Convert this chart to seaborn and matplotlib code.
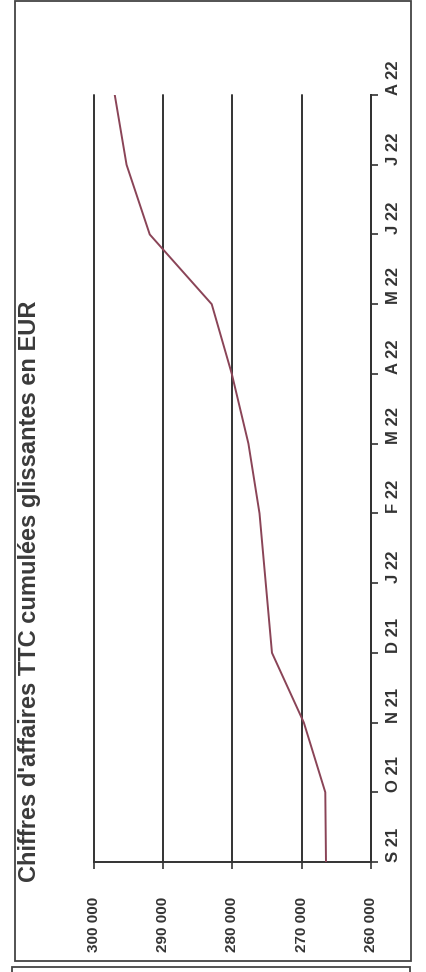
import matplotlib
matplotlib.use("Agg")
import matplotlib.pyplot as plt
from matplotlib.patches import Rectangle
import seaborn as sns
import pandas as pd

# Rolling cumulative turnover (TTC), one value per month
months = ["S 21", "O 21", "N 21", "D 21", "J 22", "F 22",
          "M 22", "A 22", "M 22", "J 22", "J 22", "A 22"]
values = [266500, 266600, 269700, 274300, 275200, 276100,
          277700, 280100, 283000, 291950, 295300, 297000]
value_ticks = [260000, 270000, 280000, 290000, 300000]
value_tick_labels = ["260 000", "270 000", "280 000", "290 000", "300 000"]
title = "Chiffres d'affaires TTC cumulées glissantes en EUR"

sns.set_theme(style="white")
plt.rcParams["font.family"] = ["Liberation Sans", "DejaVu Sans"]

df = pd.DataFrame({"idx": range(len(months)), "value": values})

fig = plt.figure(figsize=(4.27, 9.72), dpi=100)
ax = fig.add_axes([94 / 427, 110 / 972, 277 / 427, 767 / 972])

# The page is turned: values run right-to-left, months bottom-to-top
sns.lineplot(data=df, x="value", y="idx", sort=False, orient="y",
             color="#8a4457", linewidth=1.4, ax=ax, zorder=3)

ax.set_xlim(300000, 260000)
ax.set_ylim(0, len(months) - 1)
ax.set_xlabel("")
ax.set_ylabel("")

ax.set_xticks(value_ticks)
ax.set_xticklabels(value_tick_labels, rotation=90, fontsize=11,
                   fontweight="bold", color="#333333")
ax.set_yticks(range(len(months)))
ax.yaxis.tick_right()
ax.set_yticklabels(months, rotation=90, fontsize=12,
                   fontweight="bold", color="#333333")
for lab in ax.get_yticklabels():
    lab.set_verticalalignment("bottom")
    lab.set_horizontalalignment("left")

ax.tick_params(axis="x", direction="out", length=5, width=1.2,
               color="#333333", pad=20, bottom=True)
ax.tick_params(axis="y", direction="out", length=5, width=1.2,
               color="#333333", pad=6, right=True, left=False)

for side in ["left", "top"]:
    ax.spines[side].set_visible(False)
for side in ["right", "bottom"]:
    ax.spines[side].set_color("#333333")
    ax.spines[side].set_linewidth(1.4)

ax.xaxis.grid(True, color="#333333", linewidth=1.4)
ax.yaxis.grid(False)
for gl in ax.get_xgridlines():
    gl.set_clip_on(False)
ax.set_axisbelow(True)

fig.text(30 / 427, 1 - 591 / 972, title, rotation=90, ha="center",
         va="center", fontsize=17, fontweight="bold", color="#3a3a3a")

# Page frames
fig.patches.append(Rectangle((15.5 / 427, 11 / 972), (411 - 15.5) / 427,
                             (971 - 11) / 972, transform=fig.transFigure,
                             fill=False, edgecolor="#444444", linewidth=1.3))
fig.patches.append(Rectangle((12 / 427, -0.05), (410 - 12) / 427,
                             0.05 + 5 / 972, transform=fig.transFigure,
                             fill=False, edgecolor="#444444", linewidth=1.3))

fig.savefig("out.png", dpi=100, facecolor="white")
